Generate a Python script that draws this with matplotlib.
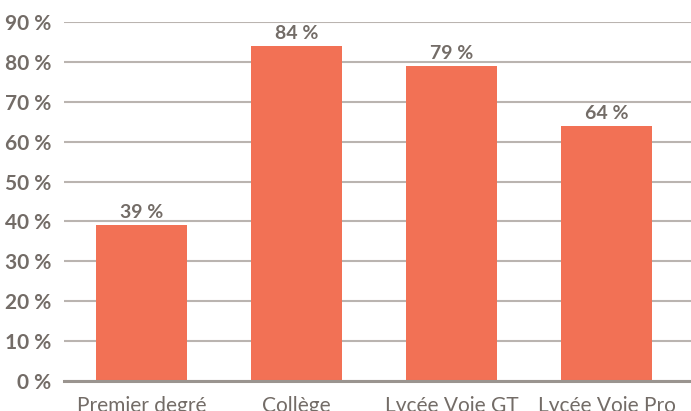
import matplotlib.pyplot as plt
from matplotlib.ticker import FuncFormatter

plt.rcParams['font.family'] = ['Lato', 'DejaVu Sans']

categories = ['Premier degré', 'Collège', 'Lycée Voie GT', 'Lycée Voie Pro']
values = [39, 84, 79, 64]
yticks = [0, 10, 20, 30, 40, 50, 60, 70, 80, 90]

bar_color = '#f27155'
text_color = '#736c67'
grid_color = '#bab4b0'

fig = plt.figure(figsize=(6.91, 4.11), dpi=100)
ax = fig.add_axes([64 / 691, 30 / 411, 627 / 691, 359 / 411])

x = range(len(categories))
bars = ax.bar(x, values, width=0.59, color=bar_color, zorder=3)

for b, v in zip(bars, values):
    ax.text(b.get_x() + b.get_width() / 2, v + 1.0, f'{v} %',
            ha='center', va='bottom', fontsize=14, fontweight='bold', color=text_color)

ax.set_xlim(-0.5, 3.545)
ax.set_ylim(0, 90)
ax.set_yticks(yticks)
ax.yaxis.set_major_formatter(FuncFormatter(lambda v, p: f'{int(v)} %'))
ax.set_xticks(list(x))
ax.set_xticklabels(categories)

ax.grid(axis='y', color=grid_color, linewidth=1.5, zorder=0)
ax.set_axisbelow(True)
for s in ['top', 'right', 'left']:
    ax.spines[s].set_visible(False)
ax.spines['bottom'].set_color('#9a948f')
ax.spines['bottom'].set_linewidth(2.2)
ax.spines['bottom'].set_zorder(4)

ax.tick_params(axis='y', length=0, pad=9, labelsize=15, labelcolor=text_color)
ax.tick_params(axis='x', length=0, pad=11, labelsize=15, labelcolor=text_color)
for lab in ax.get_yticklabels():
    lab.set_fontweight('bold')

fig.savefig('out.png', dpi=100)
